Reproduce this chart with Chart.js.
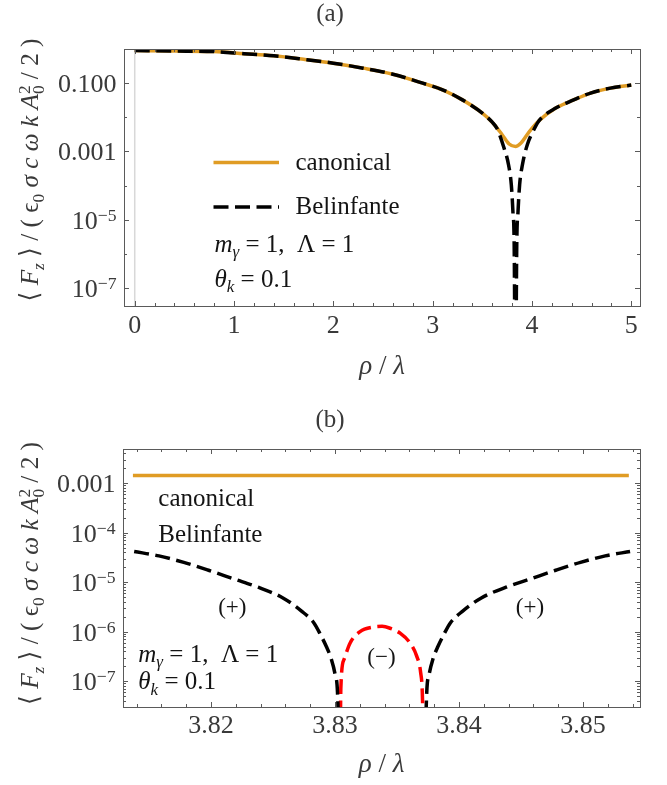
<!DOCTYPE html>
<html>
<head>
<meta charset="utf-8">
<script src="https://cdn.jsdelivr.net/npm/chart.js@4.4.3/dist/chart.umd.min.js"></script>
<style>
  html, body { margin: 0; padding: 0; background: #fff; }
  #wrap { position: relative; width: 667px; height: 785px; }
  canvas { position: absolute; left: 0; }
  #ca { top: 0; }
  #cb { top: 392px; }
</style>
</head>
<body>
<div id="wrap">
  <canvas id="ca" width="667" height="392"></canvas>
  <canvas id="cb" width="667" height="393"></canvas>
</div>
<script>
// ---- panel (a): rho/lambda from 0 to 5 ----
const rhoA = [0, 0.4, 0.8, 1.1, 1.4, 1.7, 2.0, 2.3, 2.6, 2.9, 3.1, 3.3, 3.5, 3.6, 3.7, 3.77, 3.834, 3.89, 3.97, 4.07, 4.24, 4.42, 4.59, 4.79, 5.0];
const canonA = [0.90, 0.87, 0.84, 0.73, 0.63, 0.50, 0.385, 0.275, 0.183, 0.100, 0.064, 0.0324, 0.0133, 0.0072, 0.0031, 0.00166, 0.0014, 0.00178, 0.0037, 0.0079, 0.0186, 0.0324, 0.0513, 0.0715, 0.088];
const rhoBelA = [0, 0.4, 0.8, 1.1, 1.4, 1.7, 2.0, 2.3, 2.6, 2.9, 3.1, 3.3, 3.5, 3.6, 3.65, 3.714, 3.764, 3.792, 3.808, 3.821, 3.8305, 3.8371, 3.847, 3.860, 3.876, 3.904, 3.954, 4.02, 4.07, 4.24, 4.42, 4.59, 4.79, 5.0];
const belA = [0.90, 0.87, 0.84, 0.73, 0.63, 0.50, 0.385, 0.275, 0.183, 0.100, 0.064, 0.0324, 0.0133, 0.0072, 0.0046, 0.0014, 4.1e-4, 1.07e-4, 1.8e-5, 1.9e-6, 1e-9, 1e-9, 1.9e-6, 1.8e-5, 1.07e-4, 4.1e-4, 0.0016, 0.0044, 0.0079, 0.0186, 0.0324, 0.0513, 0.0715, 0.088];

// ---- panel (b): zoom around the zero near 3.834 ----
const rhoCanB = [3.8137, 3.8237, 3.8337, 3.8437, 3.8537];
const canonB = [0.00143, 0.00143, 0.00143, 0.00143, 0.00143];
const rhoBelLeft = [3.8138, 3.8158, 3.8178, 3.8198, 3.8218, 3.8238, 3.8258, 3.8273, 3.8283, 3.8288, 3.8293, 3.8297, 3.8300, 3.8302, 3.8304];
const belLeft = [4.17e-5, 3.39e-5, 2.51e-5, 1.74e-5, 1.17e-5, 7.9e-6, 4.8e-6, 2.6e-6, 1.5e-6, 9.0e-7, 5.0e-7, 2.8e-7, 1.4e-7, 6.0e-8, 1e-9];
const rhoBelNeg = [3.8304, 3.83047, 3.83073, 3.83122, 3.83202, 3.8331, 3.8338, 3.83444, 3.83525, 3.83605, 3.83659, 3.83691, 3.83704, 3.8372];
const belNeg = [1e-9, 7.2e-8, 2.75e-7, 5.9e-7, 1.0e-6, 1.24e-6, 1.28e-6, 1.17e-6, 9.3e-7, 5.9e-7, 3.2e-7, 1.48e-7, 5.9e-8, 1e-9];
const rhoBelRight = [3.8372, 3.8374, 3.8376, 3.8379, 3.8383, 3.8388, 3.8393, 3.8403, 3.8418, 3.8438, 3.8458, 3.8478, 3.8498, 3.8518, 3.8538];
const belRight = [1e-9, 6.0e-8, 1.4e-7, 2.8e-7, 5.0e-7, 9.0e-7, 1.5e-6, 2.6e-6, 4.8e-6, 7.9e-6, 1.17e-5, 1.74e-5, 2.51e-5, 3.39e-5, 4.17e-5];

// ---- ticks ----
const xTicksA = [0, 1, 2, 3, 4, 5];
const xLabelsA = ['0', '1', '2', '3', '4', '5'];
const yTicksA = [1e-1, 1e-3, 1e-5, 1e-7];
const yLabelsA = ['0.100', '0.001', '10^\u22125', '10^\u22127'];
const yMinorA = [1e-2, 1e-4, 1e-6];
const xTicksB = [3.82, 3.83, 3.84, 3.85];
const xLabelsB = ['3.82', '3.83', '3.84', '3.85'];
const yTicksB = [1e-3, 1e-4, 1e-5, 1e-6, 1e-7];
const yLabelsB = ['0.001', '10^\u22124', '10^\u22125', '10^\u22126', '10^\u22127'];

const FONT = "'Liberation Serif','DejaVu Serif',serif";
const ORANGE = '#e09c24';
const DASH = [15, 6.5];
const TXT = '#141414';
const TICKTXT = '#3a3a3a';

// draw text made of pieces (italic / sub / sup); returns width
function drawRich(ctx, parts, size, x, y, align, doDraw = true) {
  const segs = parts.map(p => {
    const fs = (p.sub || p.sup) ? size * 0.68 : size;
    const font = (p.it ? 'italic ' : '') + fs + 'px ' + FONT;
    ctx.font = font;
    return { p, font, w: ctx.measureText(p.t).width };
  });
  const total = segs.reduce((s, q) => s + (q.p.na ? 0 : q.w), 0);
  if (!doDraw) return total;
  let cx = align === 'center' ? x - total / 2 : align === 'right' ? x - total : x;
  ctx.textAlign = 'left';
  ctx.textBaseline = 'alphabetic';
  for (const q of segs) {
    ctx.font = q.font;
    const dy = q.p.sub ? size * 0.22 : q.p.sup ? -size * 0.3 : 0;
    ctx.fillText(q.p.t, cx, y + dy);
    if (!q.p.na) cx += q.w;
  }
  return total;
}

function tickParts(s) {
  const i = s.indexOf('^');
  return i < 0 ? [{ t: s }] : [{ t: s.slice(0, i) }, { t: s.slice(i + 1), sup: 1 }];
}

const yTitle = [
  { t: '\u27e8 ' }, { t: 'F', it: 1 }, { t: 'z', it: 1, sub: 1 }, { t: ' \u27e9 / ( ' },
  { t: '\u03f5' }, { t: '0', sub: 1 }, { t: ' \u03c3 c \u03c9 k ', it: 1 }, { t: 'A', it: 1 },
  { t: '2', sup: 1, na: 1 }, { t: '0', sub: 1 }, { t: ' / 2 )' }
];
const xTitle = [{ t: '\u03c1', it: 1 }, { t: ' / ' }, { t: '\u03bb', it: 1 }];
const massLine = [{ t: 'm', it: 1 }, { t: '\u03b3', it: 1, sub: 1 }, { t: ' = 1,  \u039b = 1' }];
const thetaLine = [{ t: '\u03b8', it: 1 }, { t: 'k', it: 1, sub: 1 }, { t: ' = 0.1' }];

function framePlugin(spec) {
  return {
    id: 'frame',
    beforeDatasetsDraw(chart) {
      if (!spec.zeroLine) return;
      const { ctx, chartArea: a, scales: { x } } = chart;
      const px = x.getPixelForValue(0);
      ctx.save();
      ctx.strokeStyle = '#d8d8d8';
      ctx.lineWidth = 1.5;
      ctx.beginPath(); ctx.moveTo(px, a.top); ctx.lineTo(px, a.bottom); ctx.stroke();
      ctx.restore();
    },
    afterDraw(chart) {
      const { ctx, chartArea: a, scales: { x, y } } = chart;
      ctx.save();
      ctx.strokeStyle = '#5a5a5a';
      ctx.lineWidth = 1;
      ctx.strokeRect(a.left + 0.5, a.top + 0.5, a.right - a.left, a.bottom - a.top);

      const vt = (px, len) => {
        ctx.beginPath();
        ctx.moveTo(px, a.bottom); ctx.lineTo(px, a.bottom - len);
        ctx.moveTo(px, a.top); ctx.lineTo(px, a.top + len);
        ctx.stroke();
      };
      const ht = (py, len) => {
        ctx.beginPath();
        ctx.moveTo(a.left, py); ctx.lineTo(a.left + len, py);
        ctx.moveTo(a.right, py); ctx.lineTo(a.right - len, py);
        ctx.stroke();
      };
      spec.xTicks.forEach(v => vt(Math.round(x.getPixelForValue(v)) + 0.5, 5));
      spec.xMinor.forEach(v => vt(Math.round(x.getPixelForValue(v)) + 0.5, 3));
      spec.yTicks.forEach(v => ht(Math.round(y.getPixelForValue(v)) + 0.5, 5));
      spec.yMinor.forEach(v => ht(Math.round(y.getPixelForValue(v)) + 0.5, 3));

      // tick labels
      ctx.fillStyle = TICKTXT;
      spec.xTicks.forEach((v, i) => {
        drawRich(ctx, [{ t: spec.xLabels[i] }], 26, x.getPixelForValue(v), a.bottom + spec.xLabGap, 'center');
      });
      spec.yTicks.forEach((v, i) => {
        drawRich(ctx, tickParts(spec.yLabels[i]), 26, a.left - 7.5, y.getPixelForValue(v) + 9, 'right');
      });

      // axis titles
      drawRich(ctx, xTitle, 27, (a.left + a.right) / 2, spec.xTitleY, 'center');
      drawRich(ctx, [{ t: spec.title }], 25, 330, spec.titleY, 'center');
      ctx.save();
      ctx.translate(38, spec.yTitleY);
      ctx.rotate(-Math.PI / 2);
      const w = drawRich(ctx, yTitle, 26, 0, 0, 'center', false);
      ctx.scale(263 / w, 1);
      drawRich(ctx, yTitle, 26, 0, 0, 'center');
      ctx.restore();

      // legend samples and annotations
      spec.samples.forEach(s => {
        ctx.save();
        ctx.strokeStyle = s.color; ctx.lineWidth = 3.5; ctx.setLineDash(s.dash || []);
        ctx.beginPath(); ctx.moveTo(s.x1, s.y); ctx.lineTo(s.x2, s.y); ctx.stroke();
        ctx.restore();
      });
      ctx.fillStyle = TXT;
      spec.texts.forEach(t => drawRich(ctx, t.parts, t.size || 25, t.x, t.y, t.align || 'left'));
      ctx.restore();
    }
  };
}

function series(xs, ys, color, dash) {
  return {
    data: xs.map((v, i) => ({ x: v, y: ys[i] })),
    borderColor: color,
    borderWidth: 3.5,
    borderDash: dash || [],
    cubicInterpolationMode: 'monotone',
    pointRadius: 0,
    fill: false,
    clip: 0
  };
}

function range(a, b, step, skipEvery) {
  const out = [];
  for (let k = Math.round(a / step); k * step <= b + 1e-12; k++) {
    if (k * step < a - 1e-12) continue;
    if (skipEvery && k % skipEvery === 0) continue;
    out.push(+(k * step).toFixed(6));
  }
  return out;
}

function logMinors(lo, hi) {
  const out = [];
  for (let e = -9; e <= 0; e++) for (let m = 2; m <= 9; m++) {
    const v = m * Math.pow(10, e);
    if (v > lo && v < hi) out.push(v);
  }
  return out;
}

function makePanel(canvasId, cfg, spec) {
  return new Chart(document.getElementById(canvasId), {
    type: 'line',
    data: { datasets: cfg.datasets },
    options: {
      responsive: false,
      animation: false,
      events: [],
      layout: { padding: cfg.pad },
      scales: {
        x: { type: 'linear', min: cfg.xMin, max: cfg.xMax, display: false },
        y: { type: 'logarithmic', min: cfg.yMin, max: cfg.yMax, display: false }
      },
      plugins: { legend: { display: false }, tooltip: { enabled: false } }
    },
    plugins: [framePlugin(spec)]
  });
}

const yMinA = Math.pow(10, -7.5), yMaxB = Math.pow(10, -2.31);

makePanel('ca', {
  pad: { left: 124, right: 27, top: 49, bottom: 86 },
  xMin: -0.108, xMax: 5.088, yMin: yMinA, yMax: 1,
  datasets: [series(rhoBelA, belA, '#000', DASH), series(rhoA, canonA, ORANGE)]
}, {
  zeroLine: true,
  xTicks: xTicksA, xLabels: xLabelsA, xMinor: range(-0.108, 5.088, 0.2, 5),
  yTicks: yTicksA, yLabels: yLabelsA, yMinor: yMinorA,
  xLabGap: 27, xTitleY: 374, title: '(a)', titleY: 21, yTitleY: 170,
  samples: [
    { x1: 213.5, x2: 279, y: 162.5, color: ORANGE },
    { x1: 213.5, x2: 279, y: 207, color: '#000', dash: DASH }
  ],
  texts: [
    { parts: [{ t: 'canonical' }], x: 295.5, y: 170 },
    { parts: [{ t: 'Belinfante' }], x: 295.5, y: 214 },
    { parts: massLine, x: 214.5, y: 251.5 },
    { parts: thetaLine, x: 214.5, y: 286.5 }
  ]
});

makePanel('cb', {
  pad: { left: 123, right: 27, top: 57, bottom: 78 },
  xMin: 3.8129, xMax: 3.8546, yMin: yMinA, yMax: yMaxB,
  datasets: [
    series(rhoBelLeft, belLeft, '#000', DASH),
    series(rhoBelNeg, belNeg, '#ff0000', DASH),
    series(rhoBelRight, belRight, '#000', DASH),
    series(rhoCanB, canonB, ORANGE)
  ]
}, {
  zeroLine: false,
  xTicks: xTicksB, xLabels: xLabelsB, xMinor: range(3.8129, 3.8546, 0.002, 5),
  yTicks: yTicksB, yLabels: yLabelsB, yMinor: logMinors(yMinA, yMaxB),
  xLabGap: 25.5, xTitleY: 380, title: '(b)', titleY: 35, yTitleY: 181.5,
  samples: [],
  texts: [
    { parts: [{ t: 'canonical' }], x: 158.3, y: 113.7 },
    { parts: [{ t: 'Belinfante' }], x: 158.3, y: 150.3 },
    { parts: [{ t: '(+)' }], x: 232.3, y: 222, size: 23, align: 'center' },
    { parts: [{ t: '(+)' }], x: 530, y: 222, size: 23, align: 'center' },
    { parts: [{ t: '(\u2212)' }], x: 381.5, y: 272, size: 23, align: 'center' },
    { parts: massLine, x: 138.3, y: 269.7 },
    { parts: thetaLine, x: 138.3, y: 297.3 }
  ]
});
</script>
</body>
</html>
